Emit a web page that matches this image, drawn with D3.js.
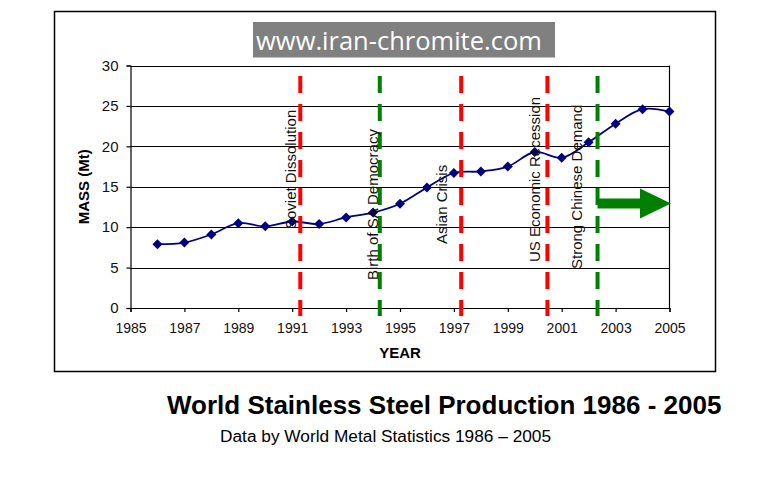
<!DOCTYPE html>
<html>
<head>
<meta charset="utf-8">
<script src="https://cdn.jsdelivr.net/npm/d3@7"></script>
<style>
  html, body { margin: 0; padding: 0; background: #fff; }
  svg { display: block; }
</style>
</head>
<body>
<svg id="chart" width="783" height="477"></svg>
<script>
// ---------- data ----------
const years = [1986,1987,1988,1989,1990,1991,1992,1993,1994,1995,1996,1997,1998,1999,2000,2001,2002,2003,2004,2005];
const mass  = [7.9, 8.1, 9.1, 10.5, 10.1, 10.7, 10.4, 11.2, 11.8, 12.9, 14.9, 16.7, 16.9, 17.5, 19.3, 18.6, 20.5, 22.8, 24.6, 24.3];
const yTicks = [0, 5, 10, 15, 20, 25, 30];
const xTicks = [1985,1987,1989,1991,1993,1995,1997,1999,2001,2003,2005];
const eventNames = ["Soviet Dissolution", "Birth of SA Democracy", "Asian Crisis", "US Economic Recession", "Strong Chinese Demand"];
const eventYears = [1991.3, 1994.25, 1997.27, 2000.47, 2002.33];
const eventKinds = ["red", "green", "red", "red", "green"];
const arrowLevel = 12.93;   // value where the trend arrow points
const titleText = "World Stainless Steel Production 1986 - 2005";
const subtitleText = "Data by World Metal Statistics 1986 \u2013 2005";
const watermark = "www.iran-chromite.com";

// ---------- layout ----------
const FONT = "'Liberation Sans', Arial, sans-serif";
const svg = d3.select("#chart");
const plot = { left: 130.5, right: 669.5, top: 65.5, bottom: 308 };
const x = d3.scaleLinear().domain([1985, 2005]).range([plot.left, plot.right]);
const y = d3.scaleLinear().domain([0, 30]).range([plot.bottom, plot.top]);
// label anchors (baseline offset in px from the event line, bottom y in px)
const labelLayout = [
  { dx: -4.5, bottom: 229 },
  { dx: -1.5, bottom: 280 },
  { dx: -14,  bottom: 244 },
  { dx: -7,   bottom: 262 },
  { dx: -16,  bottom: 269 }
];
const eventColor = { red: "#ff0000", green: "#008000" };

// outer frame
svg.append("rect").attr("x", 54.5).attr("y", 11.5).attr("width", 661).attr("height", 360)
  .attr("fill", "none").attr("stroke", "#000").attr("stroke-width", 1.5);

// watermark
svg.append("rect").attr("x", 253).attr("y", 22).attr("width", 302).attr("height", 35.5).attr("fill", "#808080");
svg.append("text").attr("x", 399).attr("y", 49.5).attr("text-anchor", "middle")
  .attr("font-family", "'Open Sans', 'Noto Sans', sans-serif").attr("font-size", 25.5)
  .attr("fill", "#fff").text(watermark);

// gridlines
svg.append("g").selectAll("line").data(yTicks.filter(d => d > 0)).join("line")
  .attr("x1", plot.left).attr("x2", plot.right)
  .attr("y1", d => Math.round(y(d)) + 0.5).attr("y2", d => Math.round(y(d)) + 0.5)
  .attr("stroke", "#000").attr("stroke-width", 1);
// right border
svg.append("line").attr("x1", plot.right).attr("x2", plot.right).attr("y1", y(30)).attr("y2", y(0))
  .attr("stroke", "#000").attr("stroke-width", 1.2);

// axes
const yAxis = d3.axisLeft(y).tickValues(yTicks).tickSize(4).tickPadding(8).tickFormat(d3.format("d"));
const gy = svg.append("g").attr("transform", `translate(${plot.left},0)`).call(yAxis);
gy.select(".domain").attr("stroke", "#000").attr("stroke-width", 1.2);
gy.selectAll(".tick line").attr("stroke", "#000").attr("stroke-width", 1.2);
gy.selectAll("text").attr("font-family", FONT).attr("font-size", 15).attr("fill", "#111");

const xAxis = d3.axisBottom(x).tickValues(xTicks).tickSize(4).tickPadding(11).tickFormat(d3.format("d"));
const gx = svg.append("g").attr("transform", `translate(0,${plot.bottom})`).call(xAxis);
gx.select(".domain").attr("stroke", "#000").attr("stroke-width", 1.2);
gx.selectAll(".tick line").attr("stroke", "#000").attr("stroke-width", 1.2);
gx.selectAll("text").attr("font-family", FONT).attr("font-size", 14).attr("fill", "#111");

// axis titles
svg.append("text").attr("transform", `translate(88.7,${(plot.top + plot.bottom) / 2}) rotate(-90)`)
  .attr("text-anchor", "middle").attr("font-family", FONT).attr("font-size", 15).attr("font-weight", "bold")
  .text("MASS (Mt)");
svg.append("text").attr("x", (plot.left + plot.right) / 2).attr("y", 358.3)
  .attr("text-anchor", "middle").attr("font-family", FONT).attr("font-size", 15).attr("font-weight", "bold")
  .text("YEAR");

// data line
const pts = years.map((yr, i) => [yr, mass[i]]);
svg.append("path").datum(pts)
  .attr("d", d3.line().x(d => x(d[0])).y(d => y(d[1])).curve(d3.curveCatmullRom.alpha(0.5)))
  .attr("fill", "none").attr("stroke", "#000080").attr("stroke-width", 1.8);

// event lines
const ev = eventNames.map((n, i) => ({ name: n, year: eventYears[i], kind: eventKinds[i], lay: labelLayout[i] }));
svg.append("g").selectAll("line").data(ev).join("line")
  .attr("x1", d => x(d.year)).attr("x2", d => x(d.year))
  .attr("y1", y(30) + 10.5).attr("y2", y(0) + 8)
  .attr("stroke", d => eventColor[d.kind]).attr("stroke-width", 4)
  .attr("stroke-dasharray", "17,11");

// markers
const diamond = "M0,-5L5,0L0,5L-5,0Z";
svg.append("g").selectAll("path").data(pts).join("path")
  .attr("d", diamond).attr("transform", d => `translate(${x(d[0])},${y(d[1])})`)
  .attr("fill", "#000080");

// event labels
svg.append("g").selectAll("text").data(ev).join("text")
  .attr("transform", d => `translate(${x(d.year) + d.lay.dx},${d.lay.bottom}) rotate(-90)`)
  .attr("font-family", FONT).attr("font-size", 15).attr("fill", "#111")
  .text(d => d.name);

// trend arrow from last event
const last = ev[ev.length - 1];
const ax0 = x(last.year), ay = y(arrowLevel), tip = x(2005) + 1.5;
const headLen = 31, shaftH = 5, headH = 15;
const arrowPts = [
  [ax0, ay - shaftH], [tip - headLen, ay - shaftH], [tip - headLen, ay - headH],
  [tip, ay], [tip - headLen, ay + headH], [tip - headLen, ay + shaftH], [ax0, ay + shaftH]
];
svg.append("path").attr("d", "M" + arrowPts.map(p => p.join(",")).join("L") + "Z").attr("fill", "#008000");

// titles
svg.append("text").attr("x", 167).attr("y", 413.5)
  .attr("font-family", FONT).attr("font-size", 26).attr("font-weight", "bold").attr("fill", "#000")
  .text(titleText);
svg.append("text").attr("x", 220).attr("y", 441.5)
  .attr("font-family", FONT).attr("font-size", 17.3).attr("fill", "#000")
  .text(subtitleText);
</script>
</body>
</html>
